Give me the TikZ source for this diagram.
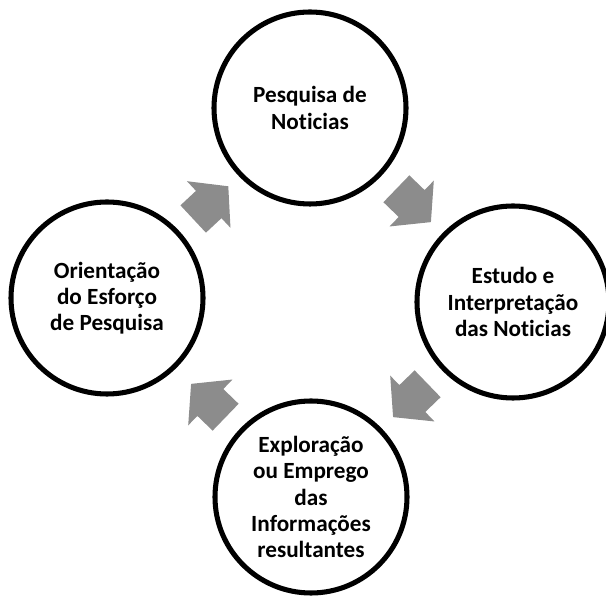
\documentclass[tikz,border=0pt]{standalone}
\usepackage{fontspec}
\setmainfont{Carlito}[Ligatures={NoCommon}]
\usetikzlibrary{shapes.arrows}
\definecolor{arrowgray}{RGB}{140,140,140}
\begin{document}
\begin{tikzpicture}[
  stage/.style={circle, draw=black, line width=3.6pt, fill=white, inner sep=0pt,
    minimum size=4.8cm, align=center,
    font=\fontsize{16.5}{18.6}\selectfont\bfseries},
  cyclearrow/.style={single arrow, fill=arrowgray, draw=none, inner xsep=0pt,
    inner ysep=0.46cm, minimum height=1.2cm, single arrow head extend=0.33cm,
    single arrow tip angle=100}
]
  \useasboundingbox (0,0) rectangle (15.15,14.925);

  % Etapas do ciclo
  \node[stage] (pesq)  at (7.75, 12.225) {Pesquisa de\\Noticias};          % topo
  \node[stage] (estud) at (12.825, 7.375) {Estudo e\\Interpretação\\das Noticias}; % direita
  \node[stage] (explo) at (7.775, 2.5)   {Exploração\\ou Emprego\\das\\Informações\\resultantes}; % baixo
  \node[stage] (orien) at (2.675, 7.475) {Orientação\\do Esforço\\de Pesquisa}; % esquerda

  % Setas
  \node[cyclearrow, rotate=43]  (a1) at (5.125, 9.725) {};
  \node[cyclearrow, rotate=-44] (a2) at (10.2, 9.925) {};
  \node[cyclearrow, rotate=224] (a3) at (10.4, 5.05) {};
  \node[cyclearrow, rotate=136] (a4) at (5.35, 4.775) {};
\end{tikzpicture}
\end{document}
